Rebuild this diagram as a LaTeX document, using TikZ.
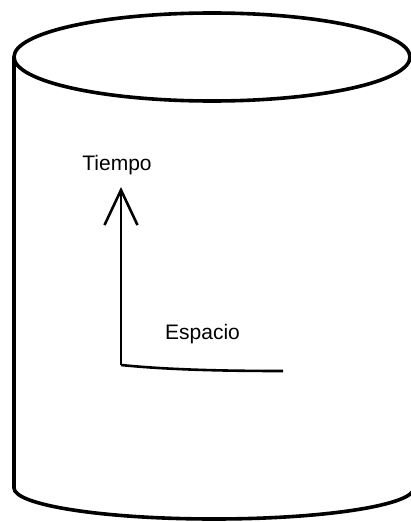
\documentclass[tikz,border=0pt]{standalone}
\usepackage{fontspec}
\setmainfont{Liberation Sans}
\usetikzlibrary{arrows.meta}
\begin{document}
\begin{tikzpicture}[x=1pt,y=-1pt,
  rim/.style={line width=3.6pt},
  axis/.style={line width=2.6pt},
  lbl/.style={font=\fontsize{21}{24}\selectfont, inner sep=0pt}]
\useasboundingbox (0,0) rectangle (410,522);
% cylinder
\draw[rim] (212,57) ellipse [x radius=198, y radius=44];
\draw[rim] (14,57) -- (14,488) arc [start angle=180, end angle=0, x radius=200, y radius=31] -- (414,57);
% axes
\coordinate (o) at (121,365);
\coordinate (t) at (121,187);
\coordinate (e) at (283,371);
\draw[axis, -{Straight Barb[length=35pt, width=33pt, line width=2.6pt]}] (o) -- (t);
\draw[axis] (o) .. controls (170,370) and (230,371) .. (e);
% labels
\node[lbl, anchor=base] (tiempo) at (117,170) {Tiempo};
\node[lbl, anchor=base west] (espacio) at (165,339) {Espacio};
\end{tikzpicture}
\end{document}
